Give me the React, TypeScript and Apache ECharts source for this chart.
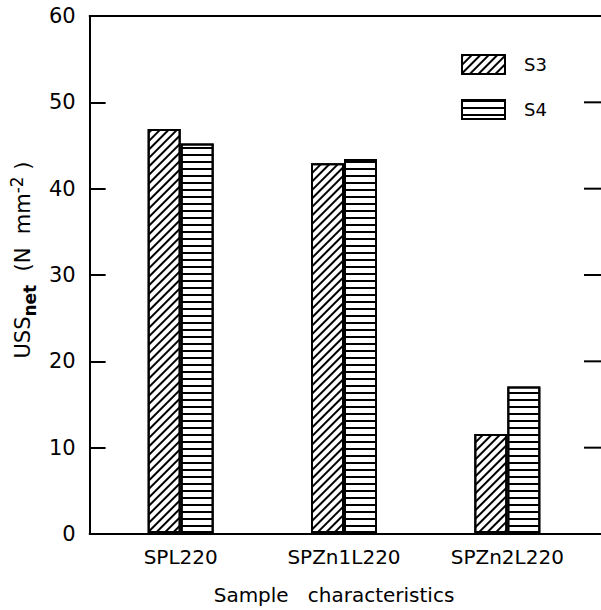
import React, { useEffect, useRef } from "react";
import * as echarts from "echarts";

const categories = ["SPL220", "SPZn1L220", "SPZn2L220"];
const seriesNames = ["S3", "S4"];
const s3Values = [46.9, 42.9, 11.5];
const s4Values = [45.2, 43.4, 17.0];
const yTicks = [0, 10, 20, 30, 40, 50, 60];
const rightTicks = [10, 20, 30, 40, 50];

const FONT = "DejaVu Sans";

export default function App() {
  const ref = useRef<HTMLDivElement>(null);
  useEffect(() => {
    if (!ref.current) return;
    const chart = echarts.init(ref.current, undefined, { renderer: "svg" });
    const mkLine = () => ({ show: true, onZero: false, lineStyle: { color: "#000", width: 2 } });
    const mkTick = () => ({ show: true, inside: true, length: 16, lineStyle: { color: "#000", width: 2 } });
    const option: any = {
      animation: false,
      backgroundColor: "#fff",
      aria: { enabled: true, decal: { show: true } },
      grid: [
        { left: 86, top: 16, right: -4, bottom: 76, containLabel: false },
        { left: 99, top: 16, right: 12, bottom: 76, containLabel: false },
      ],
      legend: {
        data: seriesNames,
        orient: "vertical",
        left: 461,
        top: 54,
        padding: 0,
        icon: "rect",
        itemWidth: 43,
        itemHeight: 19,
        itemGap: 24,
        textStyle: { fontFamily: FONT, fontSize: 18, color: "#000", padding: [0, 0, 0, 14] },
      },
      xAxis: [
        {
          gridIndex: 0,
          type: "value",
          position: "bottom",
          min: 0,
          max: 1,
          axisLine: mkLine(),
          axisTick: { show: false },
          axisLabel: { show: false },
          splitLine: { show: false },
        },
        {
          gridIndex: 0,
          type: "value",
          position: "top",
          min: 0,
          max: 1,
          axisLine: mkLine(),
          axisTick: { show: false },
          axisLabel: { show: false },
          splitLine: { show: false },
        },
        {
          gridIndex: 1,
          type: "category",
          data: categories,
          position: "bottom",
          axisLine: { show: false },
          axisTick: { show: false },
          axisLabel: { fontFamily: FONT, fontSize: 20, color: "#000", margin: 14 },
          name: "Sample   characteristics",
          nameLocation: "middle",
          nameGap: 52,
          nameTextStyle: { fontFamily: FONT, fontSize: 20, color: "#000", padding: [0, 20, 0, 0] },
        },
      ],
      yAxis: [
        {
          gridIndex: 0,
          type: "value",
          min: 0,
          max: 60,
          interval: 10,
          position: "left",
          axisLine: mkLine(),
          axisTick: mkTick(),
          axisLabel: {
            fontFamily: FONT,
            fontSize: 21,
            color: "#000",
            margin: 14,
            formatter: (v: number) => (yTicks.includes(v) ? String(v) : ""),
          },
          splitLine: { show: false },
          name: "{a|USS}{b|net}{a|  (N  mm}{c|-2}{a| )}",
          nameLocation: "middle",
          nameRotate: 90,
          nameGap: 50,
          nameTextStyle: {
            fontFamily: FONT,
            fontSize: 21,
            color: "#000",
            padding: [0, 0, 0, 30],
            rich: {
              a: { fontFamily: FONT, fontSize: 21, color: "#000", lineHeight: 30 },
              b: { fontFamily: FONT, fontSize: 17, fontWeight: "bold", color: "#000", verticalAlign: "bottom", lineHeight: 18 },
              c: { fontFamily: FONT, fontSize: 17, color: "#000", verticalAlign: "top", lineHeight: 18 },
            },
          },
        },
        {
          gridIndex: 1,
          type: "value",
          min: 0,
          max: 60,
          interval: 10,
          show: false,
        },
      ],
      series: [
        {
          name: seriesNames[0],
          type: "bar",
          xAxisIndex: 2,
          yAxisIndex: 1,
          data: s3Values,
          barWidth: 33,
          barGap: "0%",
          itemStyle: {
            color: "#fff",
            borderColor: "#000",
            borderWidth: 2,
            decal: {
              symbol: "rect",
              symbolSize: 1,
              color: "#000",
              dashArrayX: [1, 0],
              dashArrayY: [2, 4],
              rotation: -Math.PI / 4,
            },
          },
        },
        {
          name: seriesNames[1],
          type: "bar",
          xAxisIndex: 2,
          yAxisIndex: 1,
          data: s4Values,
          barWidth: 33,
          barGap: "0%",
          itemStyle: {
            color: "#fff",
            borderColor: "#000",
            borderWidth: 2,
            decal: {
              symbol: "rect",
              symbolSize: 1,
              color: "#000",
              dashArrayX: [1, 0],
              dashArrayY: [2, 5],
              rotation: 0,
            },
          },
        },
        {
          name: "rightTicks",
          type: "custom",
          xAxisIndex: 0,
          yAxisIndex: 0,
          silent: true,
          clip: false,
          data: rightTicks.map((v) => [1, v]),
          renderItem: (params: any, api: any) => {
            const p = api.coord([api.value(0), api.value(1)]);
            return {
              type: "line",
              shape: { x1: p[0] - 17, y1: p[1], x2: p[0], y2: p[1] },
              style: { stroke: "#000", lineWidth: 2, fill: null },
            };
          },
        },
      ],
    };
    chart.setOption(option);
    return () => chart.dispose();
  }, []);
  return (
    <div
      ref={ref}
      style={{ position: "fixed", left: 0, top: 0, width: 601, height: 610, background: "#fff" }}
    />
  );
}
